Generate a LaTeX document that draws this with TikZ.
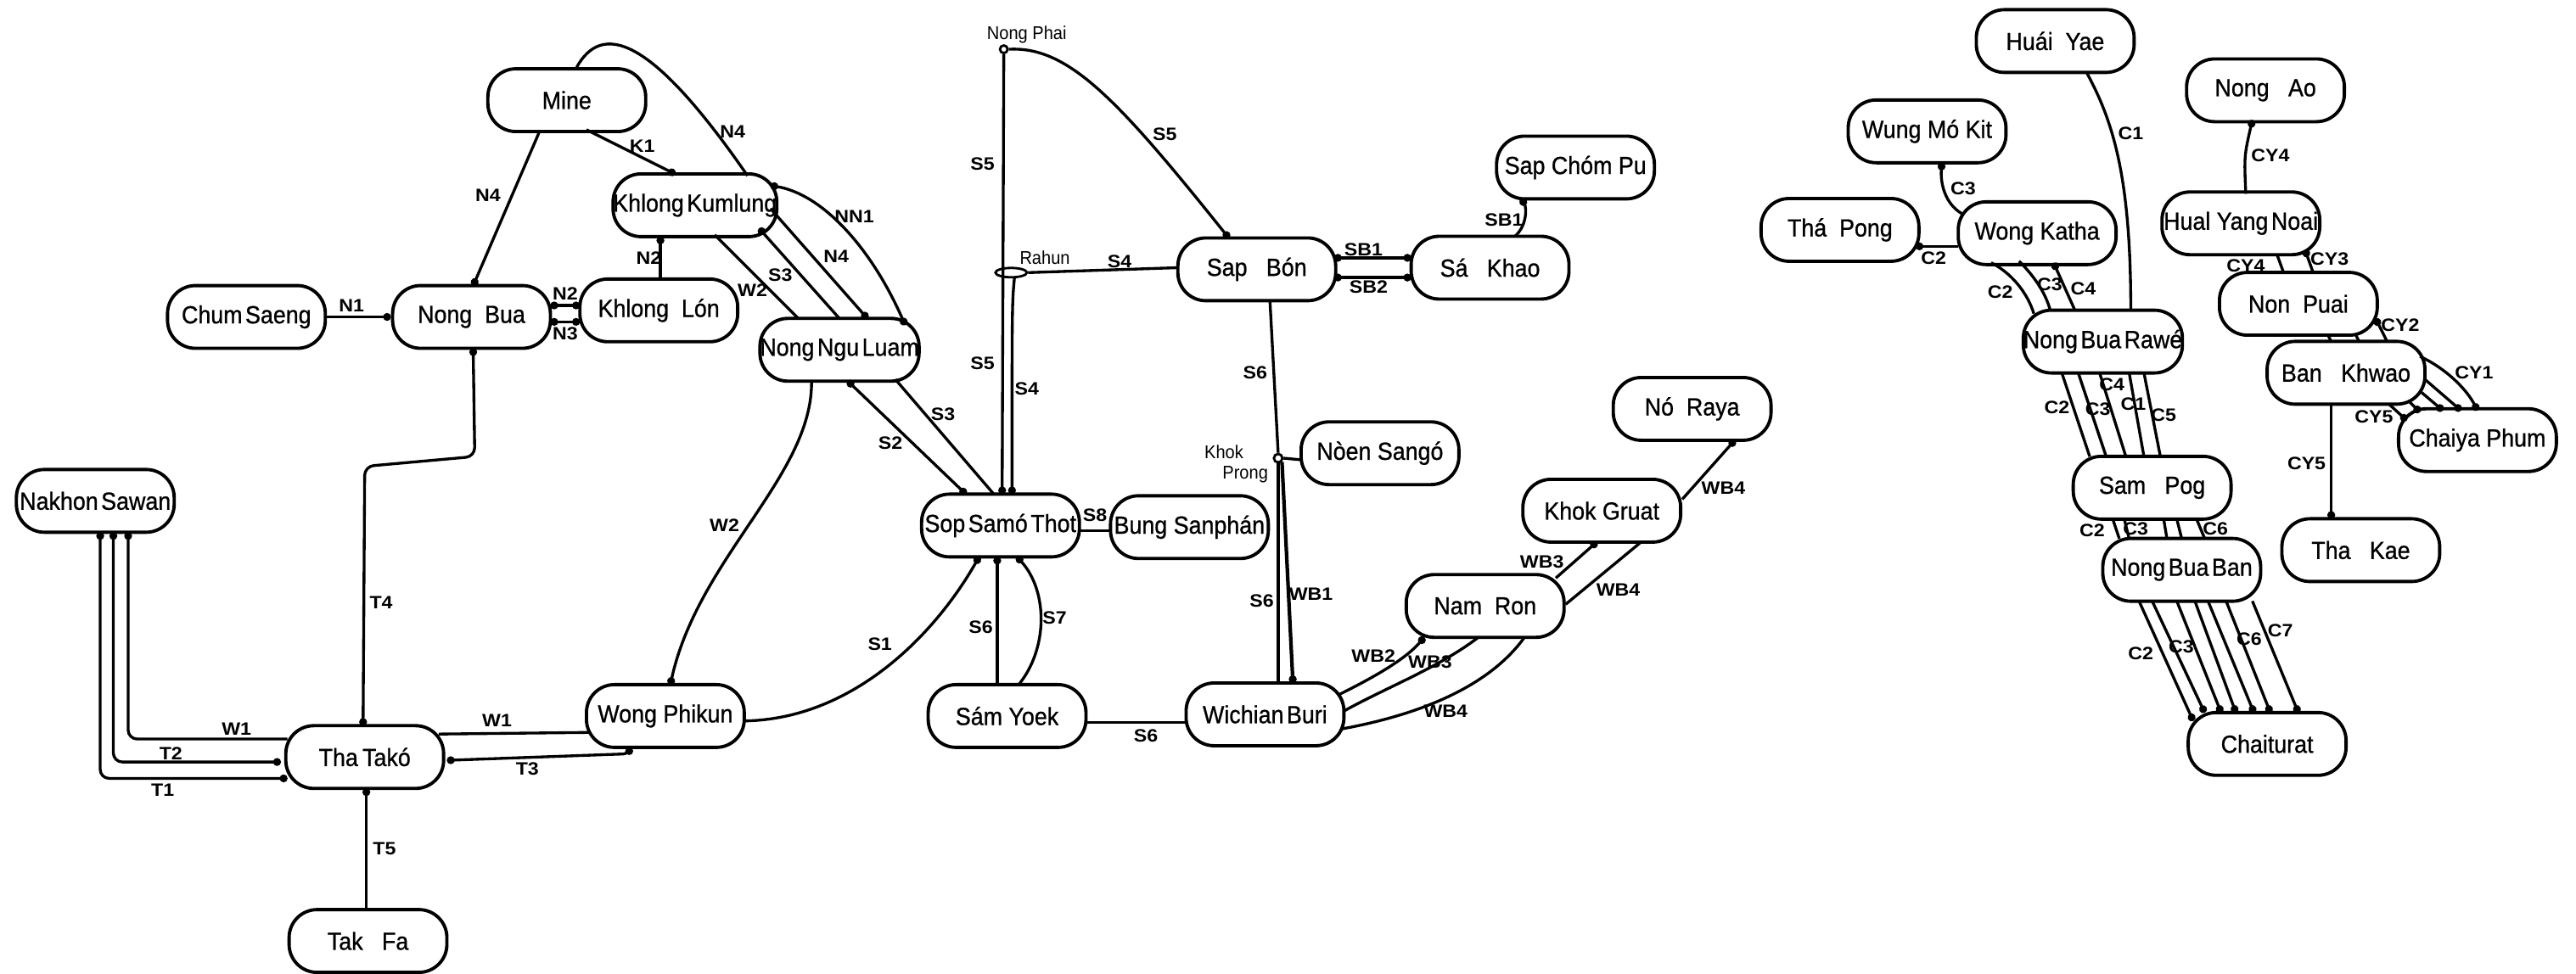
\documentclass[tikz,border=0pt]{standalone}
\usepackage{fontspec}
\setmainfont{Liberation Sans}
\newfontfamily\nodefont[FakeStretch=0.92,FakeBold=0.8]{Liberation Sans}
\newfontfamily\smallfont[FakeStretch=0.92]{Liberation Sans}
\newfontfamily\lblfont[FakeStretch=1.1]{Liberation Sans}
\usetikzlibrary{arrows.meta,calc,shapes.geometric}
\begin{document}
\begin{tikzpicture}[x=0.019356cm,y=-0.019356cm,
  place/.style={draw,line width=1.1pt,rounded corners=0.33cm,minimum width=1.86cm,minimum height=0.74cm,inner sep=0pt,font=\nodefont\fontsize{8.3}{9}\selectfont},
  conn/.style={line width=0.95pt},
  lbl/.style={font=\lblfont\bfseries\fontsize{6}{7}\selectfont,inner sep=0pt},
  small/.style={font=\smallfont\fontsize{6.2}{7}\selectfont,inner sep=0pt},
  dS/.style={{Circle[length=2.6pt]}-},
  dE/.style={-{Circle[length=2.6pt]}},
  dB/.style={{Circle[length=2.6pt]}-{Circle[length=2.6pt]}},
]
\fill[white] (0,0) rectangle (1568,593);
\useasboundingbox (0,0) rectangle (1568,593);

% ---------- nodes ----------
\node[place] (Mine) at (345,61) {Mine};
\node[place] (KK) at (423,125) {Khlong\kern1pt Kumlung};
\node[place] (KL) at (401,189) {Khlong~ Lón};
\node[place] (NB) at (287,193) {Nong~ Bua};
\node[place] (CS) at (150,193) {Chum\kern1pt Saeng};
\node[place] (NNL) at (511,213) {Nong\kern1pt Ngu\kern1pt Luam};
\node[place] (NS) at (58,305) {Nakhon\kern1pt Sawan};
\node[place] (TT) at (222,461) {Tha\kern1.5pt Takó};
\node[place] (TF) at (224,573) {Tak~~ Fa};
\node[place] (WP) at (405,436) {Wong Phikun};
\node[place] (SST) at (609,320) {Sop\kern1pt Samó\kern1pt Thot};
\node[place] (BS) at (724,321) {Bung Sanphán};
\node[place] (SY) at (613,436) {Sám Yoek};
\node[place] (WB) at (770,435) {Wichian\kern1pt Buri};
\node[place] (SB) at (765,164) {Sap~~ Bón};
\node[place] (SK) at (907,163) {Sá~~ Khao};
\node[place] (SCP) at (959,102) {Sap Chóm Pu};
\node[place] (NSG) at (840,276) {Nòen Sangó};
\node[place] (NR) at (1030,249) {Nó~ Raya};
\node[place] (KG) at (975,311) {Khok Gruat};
\node[place] (NRo) at (904,369) {Nam~ Ron};
\node[place] (HY) at (1251,25) {Huái~ Yae};
\node[place] (NA) at (1379,55) {Nong~~ Ao};
\node[place] (WMK) at (1173,80) {Wung Mó Kit};
\node[place] (TP) at (1120,140) {Thá~ Pong};
\node[place] (WK) at (1240,142) {Wong Katha};
\node[place] (HYN) at (1364,136) {Hual Yang\kern1pt Noai};
\node[place] (NP) at (1399,185) {Non~ Puai};
\node[place] (NBR) at (1280,208) {Nong\kern1pt Bua\kern1pt Rawé};
\node[place] (BK) at (1428,227) {Ban~~ Khwao};
\node[place] (CP) at (1508,268) {Chaiya Phum};
\node[place] (SP) at (1310,297) {Sam~~ Pog};
\node[place] (NBB) at (1328,347) {Nong\kern1pt Bua\kern1pt Ban};
\node[place] (TK) at (1437,335) {Tha~~ Kae};
\node[place] (CT) at (1380,453) {Chaiturat};

% small junction points
\node[circle,draw,line width=0.8pt,inner sep=0pt,minimum size=0.09cm] (NPh) at (611,30) {};
\node[ellipse,draw,line width=0.8pt,inner sep=0pt,minimum width=0.37cm,minimum height=0.11cm] (Rh) at (615.5,166) {};
\node[circle,draw,line width=0.8pt,inner sep=0pt,minimum size=0.1cm] (KP) at (778,279) {};
\node[small] (tNPh) at (625,21) {Nong Phai};
\node[small] (tRh) at (636,157) {Rahun};
\node[small] (tKP1) at (745,275) {Khok};
\node[small] (tKP2) at (758,289) {Prong};

% ---------- left group ----------
\draw[conn,dE] (CS.east) -- (NB.west);
\draw[conn,dB] ($(NB)+(48,-7)$) -- ($(KL)+(-48,-3)$);
\draw[conn,dB] ($(NB)+(48,3)$) -- ($(KL)+(-48,7)$);
\draw[conn,dS] ($(KK)+(-21,19)$) -- ($(KL)+(1,-19)$);
\draw[conn,dE] ($(Mine)+(-17,20)$) -- ($(NB)+(1,-19)$);
\draw[conn,dE] ($(Mine)+(12,18)$) -- ($(KK)+(-12,-19)$);
\draw[conn] ($(Mine)+(6,-20)$) .. controls (366,14) and (395,20) .. ($(KK)+(32,-18)$);
\draw[conn,dE] ($(KK)+(46,2)$) -- ($(NNL)+(17,-19)$);
\draw[conn,dB] ($(KK)+(46,-12)$) .. controls (500,118) and (530,150) .. ($(NNL)+(40,-15)$);
\draw[conn,dS] ($(KK)+(39,14)$) -- ($(NNL)+(0,-19)$);
\draw[conn] ($(KK)+(12,18)$) -- ($(NNL)+(-25,-19)$);
\draw[conn,dE] ($(NNL)+(-17,20)$) .. controls (494,290) and (425,340) .. ($(WP)+(3,-19)$);
\draw[conn,dB] ($(NNL)+(5,19)$) -- ($(SST)+(-21,-19)$);
\draw[conn] ($(NNL)+(34,18)$) -- ($(SST)+(-4,-19)$);

\draw[conn,dB,rounded corners=3pt] ($(NB)+(1,19)$) -- (289,278) -- (222,284) -- ($(TT)+(-1,-19)$);
\draw[conn,dS] ($(TT)+(1,19)$) -- ($(TF)+(-1,-19)$);
\draw[conn,dS,rounded corners=3pt] ($(NS)+(20,19)$) -- (78,450) -- ($(TT)+(-47,-11)$);
\draw[conn,dB,rounded corners=3pt] ($(NS)+(11,19)$) -- (69,464) -- ($(TT)+(-51,3)$);
\draw[conn,dB,rounded corners=3pt] ($(NS)+(3,19)$) -- (61,474) -- ($(TT)+(-47,13)$);
\draw[conn] ($(TT)+(45,-14)$) -- ($(WP)+(-46,10)$);
\draw[conn,dB,rounded corners=2pt] ($(TT)+(50,2)$) -- (383,459) -- ($(WP)+(-22,19)$);

% ---------- middle group ----------
\draw[conn,dE] (NPh.south) -- ($(SST)+(1,-19)$);
\draw[conn,dE] ($(Rh)+(2,3)$) .. controls (616,185) .. ($(SST)+(7,-19)$);
\draw[conn] (Rh.east) -- ($(SB)+(-48,-1)$);
\draw[conn,dE] (NPh.east) .. controls (650,28) and (680,60) .. ($(SB)+(-17,-19)$);
\draw[conn,dB] ($(SB)+(47,-7)$) -- ($(SK)+(-48,-6)$);
\draw[conn,dB] ($(SB)+(47,5)$) -- ($(SK)+(-48,6)$);
\draw[conn,dE] ($(SK)+(15,-19)$) .. controls (930,137) and (929,126) .. ($(SCP)+(-33,19)$);
\draw[conn] ($(SB)+(8,19)$) -- (KP.north);
\draw[conn,line width=1.2pt] (KP.south) -- ($(WB)+(8,-19)$);
\draw[conn,line width=1.2pt,dE] (KP.south east) -- ($(WB)+(17,-19)$);
\draw[conn] (KP.east) -- ($(NSG)+(-48,4)$);
\draw[conn] ($(SST)+(47,3)$) -- ($(BS)+(-48,2)$);
\draw[conn,dS] ($(SST)+(-2,19)$) -- ($(SY)+(-6,-19)$);
\draw[conn,dS] ($(SST)+(10,19)$) .. controls (638,360) and (638,395) .. ($(SY)+(7,-19)$);
\draw[conn,dS] ($(SST)+(-13,19)$) .. controls (570,385) and (520,438) .. ($(WP)+(48,3)$);
\draw[conn] ($(SY)+(48,4)$) -- ($(WB)+(-47,5)$);
\draw[conn,dE] ($(WB)+(45,-12)$) .. controls (835,413) and (855,402) .. ($(NRo)+(-37,19)$);
\draw[conn] ($(WB)+(48,-2)$) .. controls (845,418) and (875,407) .. ($(NRo)+(-4,19)$);
\draw[conn] ($(WB)+(46,9)$) .. controls (860,436) and (905,420) .. ($(NRo)+(24,19)$);
\draw[conn,dE] ($(NRo)+(43,-17)$) -- ($(KG)+(-3,19)$);
\draw[conn] ($(NRo)+(49,-1)$) -- ($(KG)+(24,19)$);
\draw[conn,dE] ($(KG)+(49,-7)$) -- ($(NR)+(26,19)$);

% ---------- right group ----------
\draw[conn] ($(HY)+(19,19)$) .. controls (1287,75) and (1297,110) .. ($(NBR)+(17,-19)$);
\draw[conn,dS] ($(WMK)+(9,19)$) .. controls (1181,112) and (1184,124) .. ($(WK)+(-46,-12)$);
\draw[conn,dS] ($(TP)+(46,10)$) -- ($(WK)+(-48,8)$);
\draw[conn] ($(WK)+(-28,18)$) .. controls (1224,166) and (1234,178) .. ($(NBR)+(-42,-17)$);
\draw[conn] ($(WK)+(-11,17)$) .. controls (1238,168) and (1245,178) .. ($(NBR)+(-32,-19)$);
\draw[conn,dS] ($(WK)+(10,18)$) -- ($(NBR)+(-17,-19)$);

\draw[conn] ($(NBR)+(-25,19)$) -- ($(SP)+(-38,-19)$);
\draw[conn] ($(NBR)+(-15,19)$) -- ($(SP)+(-28,-19)$);
\draw[conn] ($(NBR)+(-2,19)$) -- ($(SP)+(-16,-19)$);
\draw[conn] ($(NBR)+(16,19)$) -- ($(SP)+(-5,-19)$);
\draw[conn] ($(NBR)+(25,19)$) -- ($(SP)+(5,-19)$);

\draw[conn] ($(SP)+(-24,19)$) -- ($(NBB)+(-38,-19)$);
\draw[conn] ($(SP)+(-17,19)$) -- ($(NBB)+(-32,-19)$);
\draw[conn] ($(SP)+(7,19)$) -- ($(NBB)+(-9,-19)$);
\draw[conn] ($(SP)+(15,19)$) -- ($(NBB)+(0,-19)$);
\draw[conn] ($(SP)+(27,19)$) -- ($(NBB)+(14,-19)$);

\draw[conn,dE] ($(NBB)+(-26,19)$) -- ($(CT)+(-45,-14)$);
\draw[conn,dE] ($(NBB)+(-18,19)$) -- ($(CT)+(-38,-19)$);
\draw[conn,dE] ($(NBB)+(-3,19)$) -- ($(CT)+(-28,-19)$);
\draw[conn,dE] ($(NBB)+(8,19)$) -- ($(CT)+(-19,-19)$);
\draw[conn,dE] ($(NBB)+(16,19)$) -- ($(CT)+(-8,-19)$);
\draw[conn,dE] ($(NBB)+(27,19)$) -- ($(CT)+(2,-19)$);
\draw[conn,dE] ($(NBB)+(43,19)$) -- ($(CT)+(19,-19)$);

\draw[conn,dS] ($(NA)+(-8,18)$) .. controls (1366,95) .. ($(HYN)+(3,-18)$);
\draw[conn] ($(HYN)+(22,19)$) -- ($(NP)+(-9,-19)$);
\draw[conn,dS] ($(HYN)+(39,16)$) -- ($(NP)+(9,-19)$);
\draw[conn] ($(NP)+(18,19)$) -- ($(BK)+(-9,-19)$);
\draw[conn] ($(NP)+(35,19)$) -- ($(BK)+(8,-19)$);
\draw[conn,dS] ($(NP)+(47,9)$) -- ($(BK)+(25,-19)$);
\draw[conn,dE] ($(BK)+(45,-10)$) .. controls (1490,225) and (1502,238) .. ($(CP)+(0,-18)$);
\draw[conn,dE] ($(BK)+(48,4)$) -- ($(CP)+(-10,-18)$);
\draw[conn,dE] ($(BK)+(46,12)$) -- ($(CP)+(-21,-18)$);
\draw[conn,dE] ($(BK)+(38,17)$) -- ($(CP)+(-35,-17)$);
\draw[conn,dE] ($(BK)+(26,19)$) -- ($(CP)+(-43,-12)$);
\draw[conn,dE] ($(BK)+(-9,19)$) -- ($(TK)+(-18,-19)$);

% ---------- connector labels ----------
\node[lbl] (l1) at (214,186) {N1};
\node[lbl] (l2) at (344,179) {N2};
\node[lbl] (l3) at (344,203) {N3};
\node[lbl] (l4) at (395,157) {N2};
\node[lbl] (l5) at (297,119) {N4};
\node[lbl] (l6) at (391,89) {K1};
\node[lbl] (l7) at (446,80) {N4};
\node[lbl] (l8) at (509,156) {N4};
\node[lbl] (l9) at (520,132) {NN1};
\node[lbl] (l10) at (475,167.5) {S3};
\node[lbl] (l11) at (458,177) {W2};
\node[lbl] (l12) at (441,320) {W2};
\node[lbl] (l13) at (542,270) {S2};
\node[lbl] (l14) at (574,252) {S3};
\node[lbl] (l15) at (598,100) {S5};
\node[lbl] (l16) at (598,221) {S5};
\node[lbl] (l17) at (625,237) {S4};
\node[lbl] (l18) at (681.5,159) {S4};
\node[lbl] (l19) at (709,82) {S5};
\node[lbl] (l20) at (830,152) {SB1};
\node[lbl] (l21) at (833,175) {SB2};
\node[lbl] (l22) at (915.5,134) {SB1};
\node[lbl] (l23) at (764,227) {S6};
\node[lbl] (l24) at (768,366) {S6};
\node[lbl] (l25) at (798,362) {WB1};
\node[lbl] (l26) at (666.5,313.5) {S8};
\node[lbl] (l27) at (597,382) {S6};
\node[lbl] (l28) at (642,376) {S7};
\node[lbl] (l29) at (535.6,392) {S1};
\node[lbl] (l30) at (697.5,448) {S6};
\node[lbl] (l31) at (836,399.5) {WB2};
\node[lbl] (l32) at (870.5,403) {WB3};
\node[lbl] (l33) at (880,433) {WB4};
\node[lbl] (l34) at (938.6,342) {WB3};
\node[lbl] (l35) at (985,359) {WB4};
\node[lbl] (l36) at (1049,297) {WB4};
\node[lbl] (l37) at (232,367) {T4};
\node[lbl] (l38) at (234,517) {T5};
\node[lbl] (l39) at (144,444) {W1};
\node[lbl] (l40) at (104,459) {T2};
\node[lbl] (l41) at (99,481) {T1};
\node[lbl] (l42) at (302.5,439) {W1};
\node[lbl] (l43) at (321,468) {T3};
\node[lbl] (l44) at (1297,81) {C1};
\node[lbl] (l45) at (1195,114.7) {C3};
\node[lbl] (l46) at (1177,157) {C2};
\node[lbl] (l47) at (1217.5,178) {C2};
\node[lbl] (l48) at (1247.7,173) {C3};
\node[lbl] (l49) at (1268,176) {C4};
\node[lbl] (l50) at (1252,248) {C2};
\node[lbl] (l51) at (1277,249) {C3};
\node[lbl] (l52) at (1285.5,234) {C4};
\node[lbl] (l53) at (1298.5,246) {C1};
\node[lbl] (l54) at (1317,253) {C5};
\node[lbl] (l55) at (1273.5,323) {C2};
\node[lbl] (l56) at (1300,322) {C3};
\node[lbl] (l57) at (1348.5,322) {C6};
\node[lbl] (l58) at (1303,398) {C2};
\node[lbl] (l59) at (1327.7,394) {C3};
\node[lbl] (l60) at (1369,389) {C6};
\node[lbl] (l61) at (1388,384) {C7};
\node[lbl] (l62) at (1382,94.5) {CY4};
\node[lbl] (l63) at (1367,162) {CY4};
\node[lbl] (l64) at (1418,157.6) {CY3};
\node[lbl] (l65) at (1461,198) {CY2};
\node[lbl] (l66) at (1506,227) {CY1};
\node[lbl] (l67) at (1445,254) {CY5};
\node[lbl] (l68) at (1404,282) {CY5};
\end{tikzpicture}
\end{document}
